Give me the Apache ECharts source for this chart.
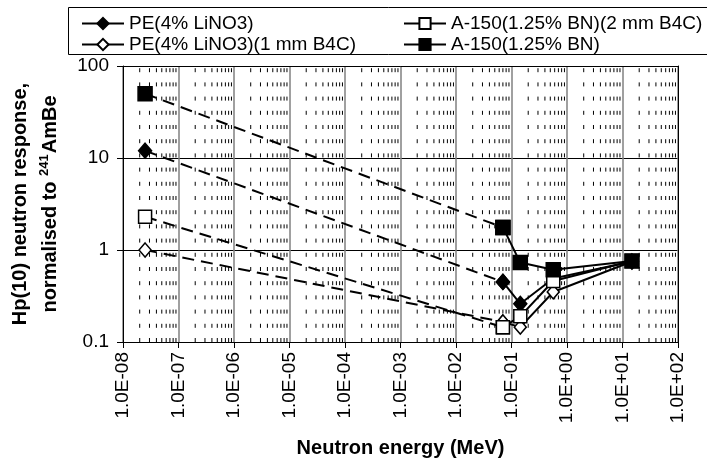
<!DOCTYPE html>
<html>
<head>
<meta charset="utf-8">
<title>Hp(10) neutron response</title>
<script src="https://cdn.jsdelivr.net/npm/echarts@6/dist/echarts.min.js"></script>
<style>
  html, body { margin: 0; padding: 0; background: #fff; }
  #chart { width: 707px; height: 468px; }
</style>
</head>
<body>
<div id="chart"></div>
<script>
// neutron energies (MeV): thermal + 4 fast points
const energies = [2.5e-8, 0.07, 0.144, 0.565, 14.8];
// responses normalised to 241AmBe
const peLiNO3 = [12, 0.45, 0.26, 0.49, 0.75];
const peLiNO3B4C = [1.0, 0.165, 0.145, 0.35, 0.75];
const a150B4C = [2.3, 0.145, 0.19, 0.46, 0.76];
const a150BN = [50, 1.76, 0.73, 0.61, 0.76];
const seriesNames = ['PE(4% LiNO3)', 'PE(4% LiNO3)(1 mm B4C)', 'A-150(1.25% BN)(2 mm B4C)', 'A-150(1.25% BN)'];

const FONT = 'Liberation Sans, Arial, sans-serif';

// dotted minor grid at 2..9 x 10^n, one broken line per position
const minorData = [];
for (let e = -8; e < 2; e++) {
  for (let k = 2; k <= 9; k++) {
    const v = k * Math.pow(10, e);
    minorData.push([v, 0.1], [v, 100], [v, '-']);
  }
}

function pairs(vals) {
  return vals.map((v, i) => [energies[i], v]);
}

const styles = [
  { data: peLiNO3, symbol: 'diamond', size: [13, 15], fill: '#000' },
  { data: peLiNO3B4C, symbol: 'diamond', size: [12, 14], fill: '#fff' },
  { data: a150B4C, symbol: 'rect', size: 13, fill: '#fff' },
  { data: a150BN, symbol: 'rect', size: 14, fill: '#000' }
];

const series = [{
  type: 'line',
  name: 'minor',
  data: minorData,
  symbol: 'none',
  silent: true,
  connectNulls: false,
  lineStyle: { color: '#000', width: 1, type: [4, 10.2] },
  z: 1
}];
// dashed segment from thermal point to first fast point
styles.forEach((s, i) => {
  series.push({
    type: 'line',
    name: 'dash' + i,
    data: pairs(s.data).slice(0, 2),
    symbol: s.symbol,
    symbolSize: s.size,
    showSymbol: true,
    lineStyle: { color: '#000', width: 2, type: [12, 7] },
    itemStyle: { color: s.fill, borderColor: '#000', borderWidth: 1.5 },
    z: 3
  });
});
// solid lines over the fast points
styles.forEach((s, i) => {
  series.push({
    type: 'line',
    name: seriesNames[i],
    data: pairs(s.data).slice(1),
    symbol: s.symbol,
    symbolSize: s.size,
    lineStyle: { color: '#000', width: 2 },
    itemStyle: { color: s.fill, borderColor: '#000', borderWidth: 1.5 },
    z: 4
  });
});

function expLabel(v) {
  const e = Math.round(Math.log10(v));
  const s = e < 0 ? '-' : '+';
  const a = Math.abs(e);
  return '1.0E' + s + (a < 10 ? '0' + a : '' + a);
}

const chart = echarts.init(document.getElementById('chart'));
const option = {
  animation: false,
  textStyle: { fontFamily: FONT },
  grid: { left: 123, right: 29, top: 66, bottom: 126 },
  graphic: [{
    type: 'rect',
    shape: { x: 68.5, y: 7.5, width: 660, height: 47 },
    style: { fill: '#fff', stroke: '#000', lineWidth: 1 },
    z: 0
  }],
  legend: [
    {
      data: [seriesNames[0], seriesNames[1]],
      orient: 'vertical',
      left: 76, top: 9,
      itemWidth: 42, itemHeight: 14, itemGap: 2,
      textStyle: { fontSize: 19, color: '#000', fontFamily: FONT }
    },
    {
      data: [seriesNames[2], seriesNames[3]],
      orient: 'vertical',
      left: 398, top: 9,
      itemWidth: 42, itemHeight: 14, itemGap: 2,
      textStyle: { fontSize: 19, color: '#000', fontFamily: FONT }
    }
  ],
  xAxis: [
    {
      type: 'log',
      logBase: 10,
      min: 1e-8,
      max: 100,
      interval: 1,
      splitNumber: 10,
      name: 'Neutron energy (MeV)',
      nameLocation: 'middle',
      nameGap: 96,
      nameTextStyle: { fontSize: 20, fontWeight: 'bold', color: '#000', fontFamily: FONT },
      axisLine: { lineStyle: { color: '#000', width: 1 } },
      axisTick: { show: true, length: 6, lineStyle: { color: '#000' } },
      axisLabel: { rotate: 90, margin: 10, fontSize: 19, color: '#000', fontFamily: FONT, formatter: expLabel },
      splitLine: { show: true, lineStyle: { color: '#808080', width: 1.5 } },
      minorTick: { show: false }
    },
    {
      type: 'log', position: 'top', min: 1e-8, max: 100,
      axisLine: { lineStyle: { color: '#000' } },
      axisTick: { show: false }, axisLabel: { show: false }, splitLine: { show: false }
    }
  ],
  yAxis: [
    {
      type: 'log',
      logBase: 10,
      min: 0.1,
      max: 100,
      interval: 1,
      splitNumber: 3,
      name: '{t|Hp(10) neutron response,}\n{t|normalised to }{sup|241}{t|AmBe}',
      nameLocation: 'middle',
      nameRotate: 90,
      nameGap: 58,
      nameTextStyle: {
        fontSize: 20, fontWeight: 'bold', color: '#000', fontFamily: FONT,
        rich: {
          t: { fontSize: 20, fontWeight: 'bold', color: '#000', fontFamily: FONT, lineHeight: 30 },
          sup: { fontSize: 13, fontWeight: 'bold', color: '#000', fontFamily: FONT, lineHeight: 30, verticalAlign: 'top', padding: [3, 1, 0, 0] }
        }
      },
      axisLine: { show: true, lineStyle: { color: '#000', width: 1 } },
      axisTick: { show: true, length: 6, lineStyle: { color: '#000' } },
      axisLabel: { margin: 14, fontSize: 19, color: '#000', fontFamily: FONT },
      splitLine: { show: true, lineStyle: { color: '#000', width: 1 } }
    },
    {
      type: 'log', position: 'right', min: 0.1, max: 100,
      axisLine: { show: true, lineStyle: { color: '#000' } },
      axisTick: { show: false }, axisLabel: { show: false }, splitLine: { show: false }
    }
  ],
  series: series
};
chart.setOption(option);
</script>
</body>
</html>
